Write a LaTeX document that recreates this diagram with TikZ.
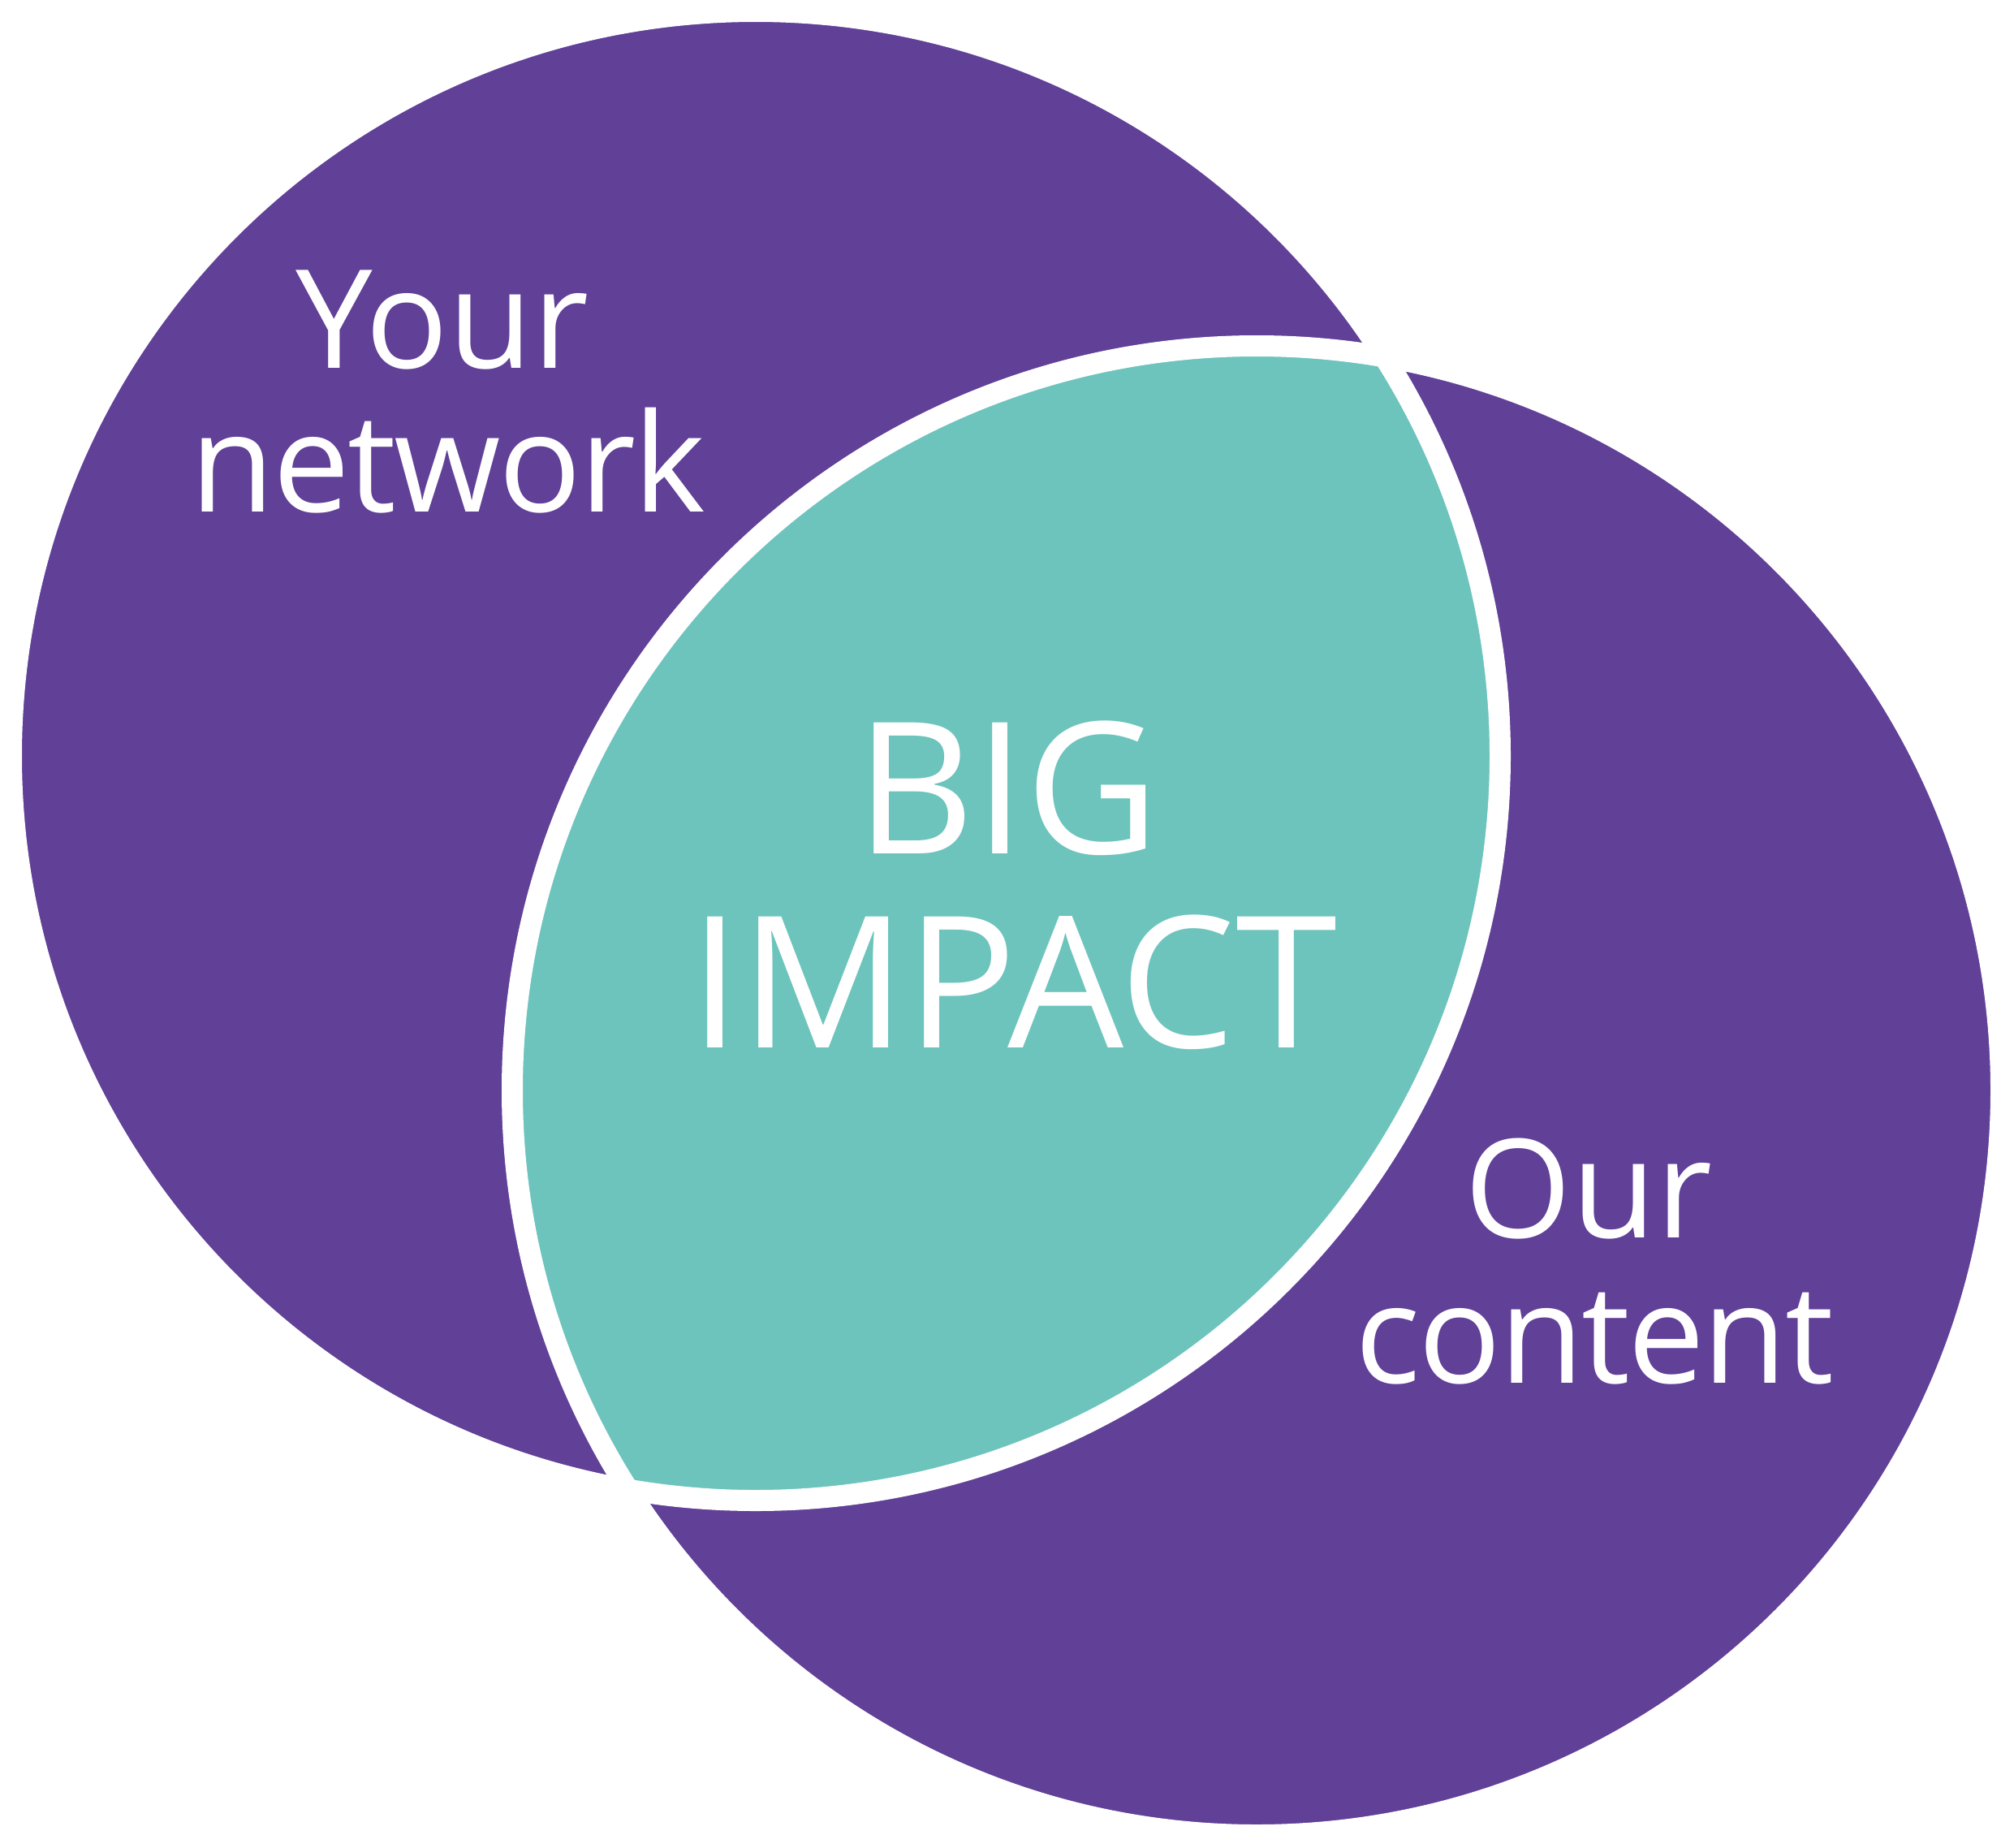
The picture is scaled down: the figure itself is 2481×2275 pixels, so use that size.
\documentclass[tikz,border=0pt]{standalone}
\usepackage{fontspec}
\setmainfont{Open Sans}
\newfontfamily\tightfont[LetterSpace=-1.5]{Open Sans}
\definecolor{vpurple}{HTML}{614098}
\definecolor{vteal}{HTML}{6DC4BD}
\tikzset{
  lbl/.style={text=white, inner sep=0pt, anchor=base},
  small/.style={font=\fontsize{169}{177}\selectfont},
  smalltight/.style={font=\tightfont\fontsize{169}{177}\selectfont},
  big/.style={font=\fontsize{226}{239}\selectfont},
}
\begin{document}
\begin{tikzpicture}[x=1pt,y=-1pt]
\useasboundingbox (0,0) rectangle (2481,2275);
\coordinate (cl) at (931,931);
\coordinate (cr) at (1548,1343);
\fill[vpurple] (cl) circle[radius=917];
\fill[vpurple] (cr) circle[radius=917];
\begin{scope}
  \clip (cl) circle[radius=917];
  \fill[vteal] (cr) circle[radius=917];
\end{scope}
\draw[white, line width=26pt] (cl) circle[radius=917];
\draw[white, line width=26pt] (cr) circle[radius=917];
\node[lbl, small] (your) at (545,453) {Your};
\node[lbl, smalltight] (network) at (552,630) {network};
\node[lbl, big] (bigt) at (1241,1051) {BIG};
\node[lbl, big] (impact) at (1248,1290) {IMPACT};
\node[lbl, small] (our) at (1957,1524) {Our};
\node[lbl, smalltight] (content) at (1964,1703) {content};
\end{tikzpicture}
\end{document}
